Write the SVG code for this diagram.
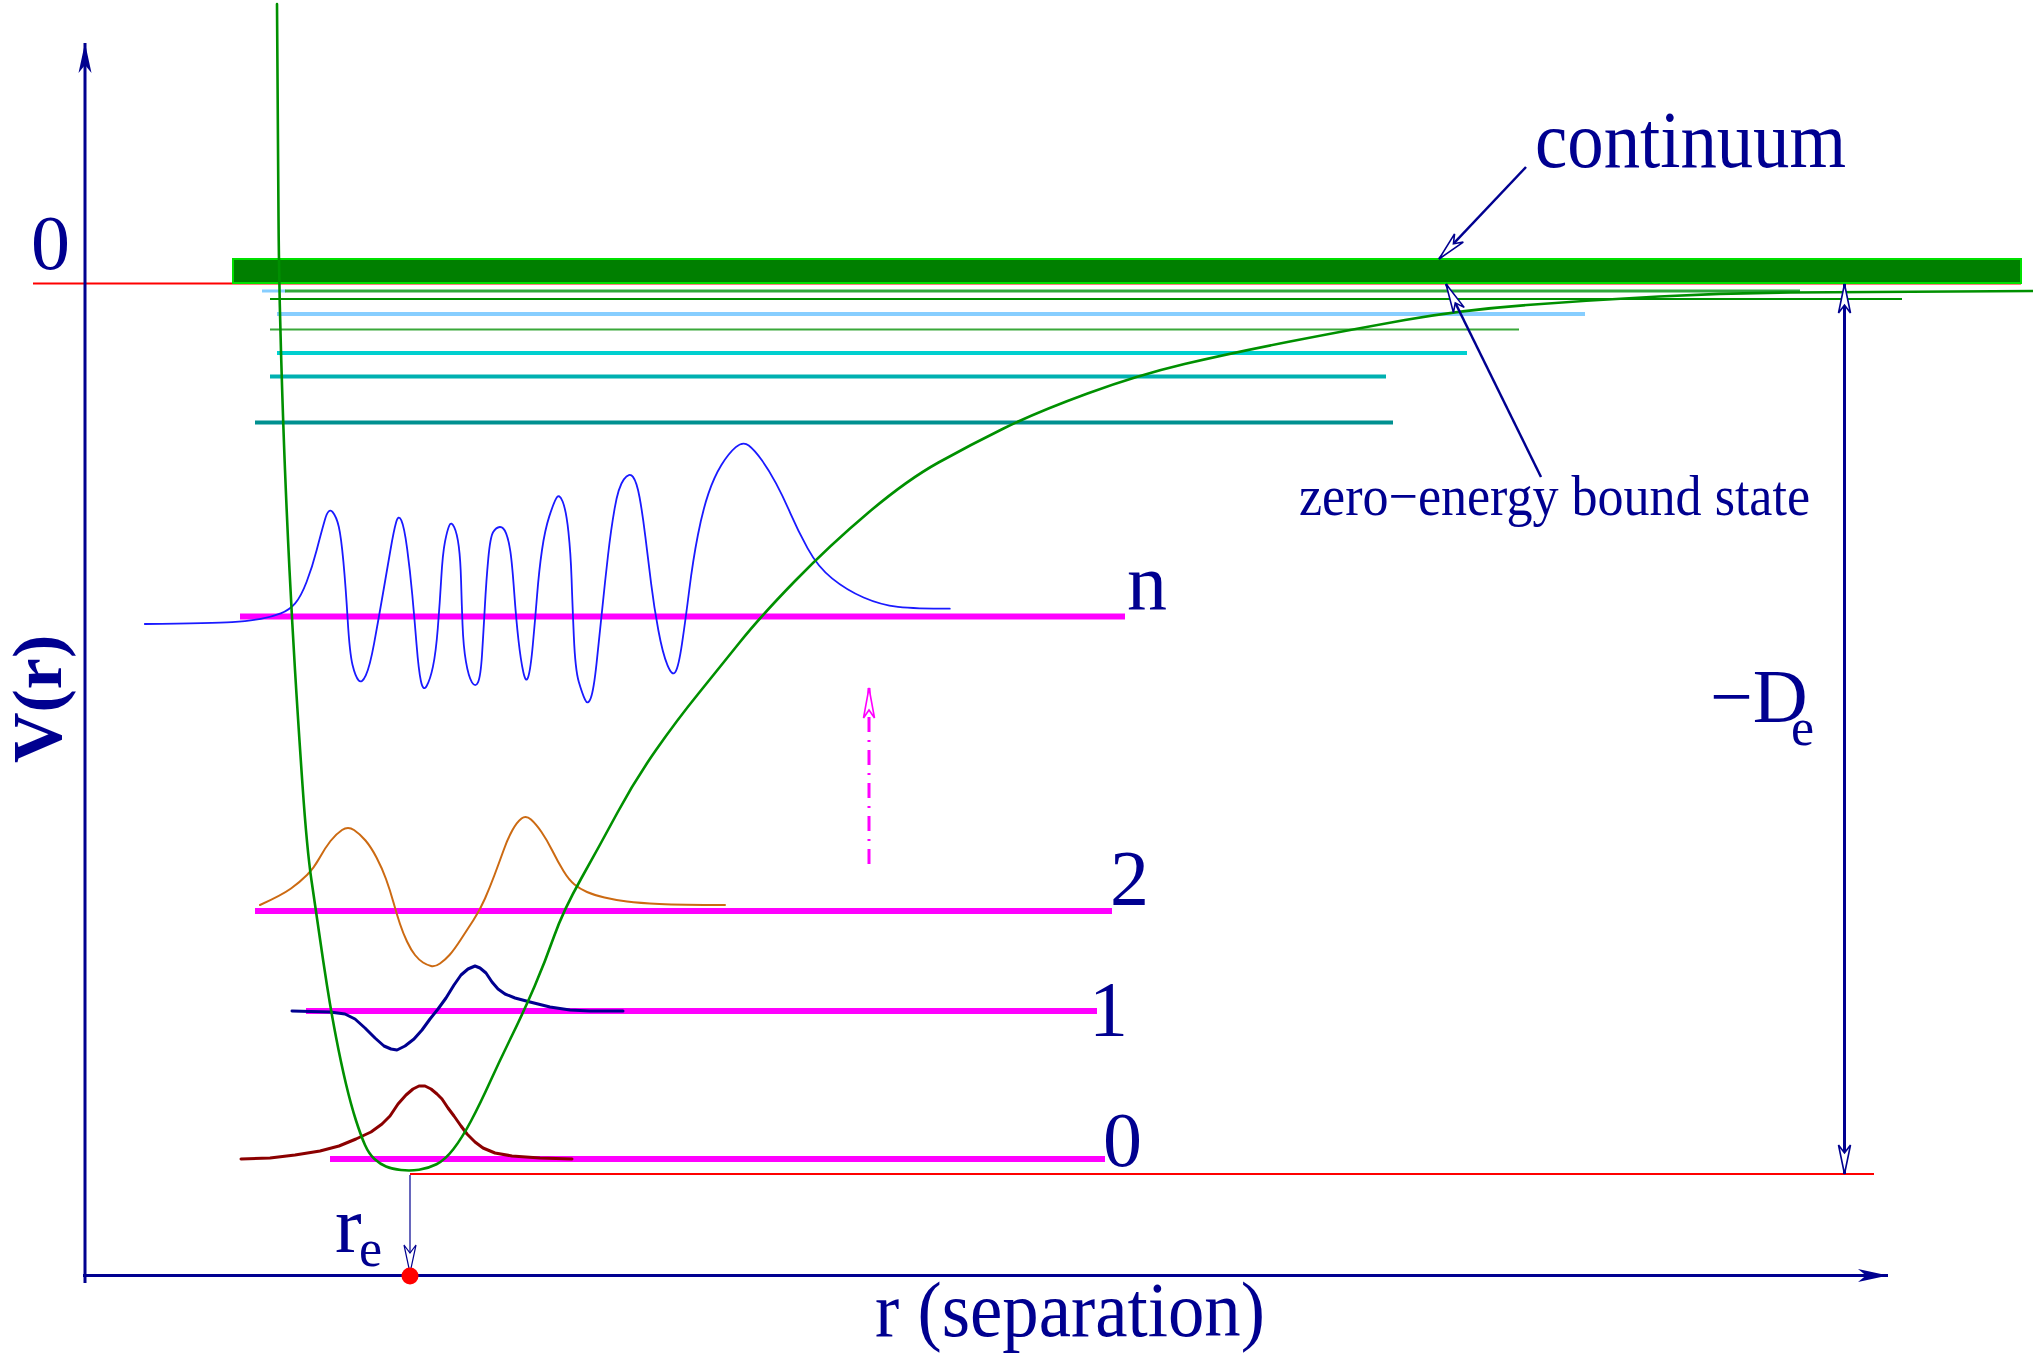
<svg xmlns="http://www.w3.org/2000/svg" width="2033" height="1355" viewBox="0 0 2033 1355">
<style>
.lbl{font-family:"Liberation Serif","Times New Roman",serif;fill:#000090}
.lev{stroke:#ff00ff;stroke-width:6;fill:none}
.wf{fill:none;stroke-linejoin:round;stroke-linecap:round}
.conn{stroke:#000090;fill:none}
</style>
<defs>
<marker id="axisHead" markerUnits="userSpaceOnUse" orient="auto" refX="0" refY="0" markerWidth="40" markerHeight="20" overflow="visible"><path d="M0,0 L-30,-6.5 L-22,0 L-30,6.5 Z" fill="#000090"/></marker>
<marker id="openHead" markerUnits="userSpaceOnUse" orient="auto-start-reverse" refX="0" refY="0" markerWidth="40" markerHeight="20" overflow="visible"><path d="M0,0 L-29,-6 L-21,0 L-29,6 Z" fill="#fff" stroke="#000090" stroke-width="1.6" stroke-dasharray="none"/></marker>
<marker id="thinHead" markerUnits="userSpaceOnUse" orient="auto" refX="0" refY="0" markerWidth="40" markerHeight="20" overflow="visible"><path d="M0,0 L-28,-6 L-20,0 L-28,6 Z" fill="#fff" stroke="#000090" stroke-width="1.2"/></marker>
<marker id="pinkHead" markerUnits="userSpaceOnUse" orient="auto" refX="0" refY="0" markerWidth="40" markerHeight="20" overflow="visible"><path d="M0,0 L-30,-5.5 L-22,0 L-30,5.5 Z" fill="#fff" stroke="#ff00ff" stroke-width="1.6" stroke-dasharray="none"/></marker>
</defs>
<rect width="2033" height="1355" fill="#fff"/>

<g id="zero-line">
<line x1="33" y1="283.5" x2="2021" y2="283.5" stroke="#ff0000" stroke-width="2"/>
</g>
<g id="continuum-band">
<rect x="233" y="259" width="1788" height="24" fill="#007f00" stroke="#00e000" stroke-width="2"/>
</g>
<g id="high-levels">
<line x1="262" y1="291" x2="286" y2="291" stroke="#87ceff" stroke-width="3"/>
<line x1="285" y1="291" x2="1800" y2="291" stroke="#2fa83a" stroke-width="3"/>
<line x1="270" y1="299" x2="1902" y2="299" stroke="#009000" stroke-width="2"/>
<line x1="277" y1="314" x2="1585" y2="314" stroke="#87ceff" stroke-width="4"/>
<line x1="270" y1="329.5" x2="1519" y2="329.5" stroke="#3aa83a" stroke-width="2"/>
<line x1="277" y1="353" x2="1467" y2="353" stroke="#00d0d0" stroke-width="4"/>
<line x1="270" y1="376.5" x2="1386" y2="376.5" stroke="#00b0b0" stroke-width="4"/>
<line x1="255" y1="422.5" x2="1393" y2="422.5" stroke="#009090" stroke-width="4"/>
</g>
<g id="bottom-line">
<line x1="410" y1="1174" x2="1874" y2="1174" stroke="#ff0000" stroke-width="2"/>
</g>

<g id="level-n">
<line class="lev" x1="240" y1="616.5" x2="1125" y2="616.5"/>
<path class="wf" stroke="#1a1aff" stroke-width="1.8" d="M144.8,624 Q214.8,623.3 232.05,622.15 Q249.3,621 260.75,618.85 Q272.2,616.7 280.8,613.35 Q289.4,610 295.15,603.35 Q300.9,596.7 306.65,581.7 Q312.4,566.7 316.7,550 Q321,533.3 324.75,520.15 Q328.5,507 332.5,511.85 Q336.5,516.7 338.8,526.7 Q341.1,536.7 343.4,561.7 Q345.7,586.7 347.7,620 Q349.7,653.3 352.55,665 Q355.4,676.7 358.6,680.35 Q361.8,684 365.8,675.35 Q369.8,666.7 374.1,643.35 Q378.4,620 382.7,595 Q387,570 390.45,550 Q393.9,530 396.2,522 Q398.5,514 401.35,520.35 Q404.2,526.7 407.1,548.35 Q410,570 412.3,595 Q414.6,620 416.6,645 Q418.6,670 420.9,681 Q423.2,692 426.65,686 Q430.1,680 432.95,666.65 Q435.8,653.3 437.8,628.3 Q439.8,603.3 441.25,578.3 Q442.7,553.3 445,541.65 Q447.3,530 449.3,525.5 Q451.3,521 454.2,527.15 Q457.1,533.3 458.8,546.65 Q460.5,560 461.1,581.65 Q461.7,603.3 462.55,625 Q463.4,646.7 465.95,661.7 Q468.5,676.7 471.95,682.35 Q475.4,688 478,682.35 Q480.6,676.7 482,655 Q483.4,633.3 484.85,606.65 Q486.3,580 488.3,558.35 Q490.3,536.7 493.2,532 Q496.1,527.3 499.8,527 Q503.5,526.7 506.1,533.35 Q508.7,540 510.4,551.65 Q512.1,563.3 514.15,591.65 Q516.2,620 518.45,640 Q520.7,660 523.3,672 Q525.9,684 528.2,677 Q530.5,670 532.8,645 Q535.1,620 537.1,595 Q539.1,570 542,550 Q544.9,530 549.2,516.65 Q553.5,503.3 556.35,498.15 Q559.2,493 562.65,501.5 Q566.1,510 568.4,531.65 Q570.7,553.3 571.55,578.3 Q572.4,603.3 573.85,636.65 Q575.3,670 578.75,681.65 Q582.2,693.3 585.05,699.65 Q587.9,706 590.8,698 Q593.7,690 596.55,663.35 Q599.4,636.7 602.3,608.35 Q605.2,580 608.05,555 Q610.9,530 614.65,508.35 Q618.4,486.7 623.85,479.35 Q629.3,472 633,476.85 Q636.7,481.7 639.6,497.5 Q642.5,513.3 645.35,536.65 Q648.2,560 651.1,583.35 Q654,606.7 658.3,630 Q662.6,653.3 667.45,665.15 Q672.3,677 675.45,671.85 Q678.6,666.7 682.05,643.35 Q685.5,620 689.25,590 Q693,560 697.9,535 Q702.8,510 708.5,493.35 Q714.2,476.7 721.4,465 Q728.6,453.3 735.8,447.15 Q743,441 748.75,445.5 Q754.5,450 761.7,460 Q768.9,470 776.05,483.35 Q783.2,496.7 790.4,513.35 Q797.6,530 807.65,548.35 Q817.7,566.7 832.05,578.35 Q846.4,590 863.6,597.5 Q880.8,605 898,606.85 Q915.2,608.7 949.8,608.7"/>
<text class="lbl" x="1127" y="609" font-size="80">n</text>
</g>

<g id="level-2">
<line class="lev" x1="255" y1="911" x2="1112" y2="911"/>
<path class="wf" stroke="#cc6a12" stroke-width="2" d="M260,905 Q282,895 291,888.5 Q300,882 307,875 Q314,868 319.5,858 Q325,848 330.5,841 Q336,834 342,830 Q348,826 354,830 Q360,834 365.5,840.5 Q371,847 376.5,857.5 Q382,868 386,879 Q390,890 393.5,902.5 Q397,915 400,924 Q403,933 407,941.5 Q411,950 415,955 Q419,960 423,962.5 Q427,965 431,966 Q435,967 440,963.5 Q445,960 449.5,955 Q454,950 460.5,940 Q467,930 473.5,920 Q480,910 485,898.5 Q490,887 494.5,875 Q499,863 503.5,850.5 Q508,838 512.5,830 Q517,822 521.5,818.5 Q526,815 531,819.5 Q536,824 541.5,832 Q547,840 552.5,851 Q558,862 563.5,871 Q569,880 574.5,884.5 Q580,889 587,892 Q594,895 604.5,897.5 Q615,900 627,901.5 Q639,903 659.5,904 Q680,905 725,905"/>
<text class="lbl" x="1110" y="904" font-size="78">2</text>
</g>

<g id="level-1">
<line class="lev" x1="306" y1="1011" x2="1097" y2="1011"/>
<polyline class="wf" stroke="#000090" stroke-width="3" points="292,1011 330,1012 345,1014 355,1019 365,1028 375,1038 384,1046 391,1049 397,1050 405,1046 414,1039 422,1030 430,1019 438,1009 446,998 454,985 461,975 468,969 475,966 480,968 486,973 492,982 498,989 505,994 515,998 530,1002 550,1007 570,1010 590,1011 623,1011"/>
<text class="lbl" x="1089" y="1035" font-size="78">1</text>
</g>

<g id="level-0">
<line class="lev" x1="330" y1="1159" x2="1105" y2="1159"/>
<polyline class="wf" stroke="#8b0000" stroke-width="3" points="241,1159 270,1158 295,1155 320,1151 339,1146 356,1139 371,1132 382,1124 390,1116 398,1104 406,1095 413,1089 419,1086 425,1086 431,1089 437,1094 442,1099 448,1108 454,1116 461,1126 467,1134 475,1142 483,1148 495,1153 512,1156 540,1158 572,1159"/>
<text class="lbl" x="1103" y="1166" font-size="78">0</text>
</g>

<g id="potential">
<path class="wf" stroke="#009000" stroke-width="2.6" d="M277,4 Q278,150 278.5,216.5 Q279,283 281,351.5 Q283,420 285,470 Q287,520 289.5,570 Q292,620 295,670 Q298,720 302.5,785 Q307,850 311.5,880.5 Q316,911 319.5,935.5 Q323,960 327,985.5 Q331,1011 336,1037 Q341,1063 346,1084 Q351,1105 356,1120.5 Q361,1136 365,1145 Q369,1154 374.5,1159 Q380,1164 386,1166.5 Q392,1169 401,1170 Q410,1171 419,1169.75 Q428,1168.5 436.5,1164.25 Q445,1160 453.5,1149 Q462,1138 471,1121 Q480,1104 490,1082 Q500,1060 512,1035.5 Q524,1011 534.5,986.5 Q545,962 554,936.5 Q563,911 581.5,878 Q600,845 617.5,812.5 Q635,780 656,750 Q677,720 698.5,693.5 Q720,667 740,642 Q760,617 795,581 Q830,545 868.5,512.5 Q907,480 938.5,462.5 Q970,445 1003.5,428.5 Q1037,412 1087.5,393.5 Q1138,375 1184.5,364 Q1231,353 1290,341.5 Q1349,330 1405,320 Q1461,310 1527,305 Q1593,300 1659,296.5 Q1725,293 1790.5,292.5 Q1856,292 2033,291"/>
</g>

<g id="axes">
<line class="conn" x1="85" y1="1283" x2="85" y2="43" stroke-width="3" marker-end="url(#axisHead)"/>
<line class="conn" x1="83" y1="1275.5" x2="1888" y2="1275.5" stroke-width="3" marker-end="url(#axisHead)"/>
</g>

<g id="connectors">
<line class="conn" x1="1526" y1="167" x2="1439" y2="259" stroke-width="2.5" marker-end="url(#openHead)"/>
<line class="conn" x1="1541" y1="477" x2="1446" y2="284" stroke-width="2.5" marker-end="url(#openHead)"/>
<line class="conn" x1="1844.5" y1="284" x2="1844.5" y2="1174" stroke-width="3" marker-start="url(#openHead)" marker-end="url(#openHead)"/>
<line class="conn" x1="410" y1="1175" x2="410" y2="1273" stroke-width="1.2" marker-end="url(#thinHead)"/>
<line x1="869" y1="864" x2="869" y2="688" stroke="#ff00ff" stroke-width="3" stroke-dasharray="15 8 2 8" marker-end="url(#pinkHead)"/>
</g>

<g id="re-point">
<circle cx="410" cy="1276" r="8.5" fill="#ff0000"/>
</g>

<g id="labels">
<text class="lbl" x="31" y="269" font-size="78">0</text>
<text class="lbl" x="1535" y="167" font-size="80" textLength="311" lengthAdjust="spacingAndGlyphs">continuum</text>
<text class="lbl" x="1299" y="515" font-size="56" textLength="511" lengthAdjust="spacingAndGlyphs">zero−energy bound state</text>
<text class="lbl" x="1710" y="722" font-size="76">−D<tspan x="1791" y="745" font-size="52">e</tspan></text>
<text class="lbl" x="335" y="1252" font-size="80">r<tspan x="359" y="1266" font-size="52">e</tspan></text>
<text class="lbl" x="875" y="1336" font-size="78" textLength="390" lengthAdjust="spacingAndGlyphs">r (separation)</text>
<text class="lbl" transform="translate(61,763) rotate(-90)" font-size="70" font-weight="bold">V(r)</text>
</g>
</svg>
